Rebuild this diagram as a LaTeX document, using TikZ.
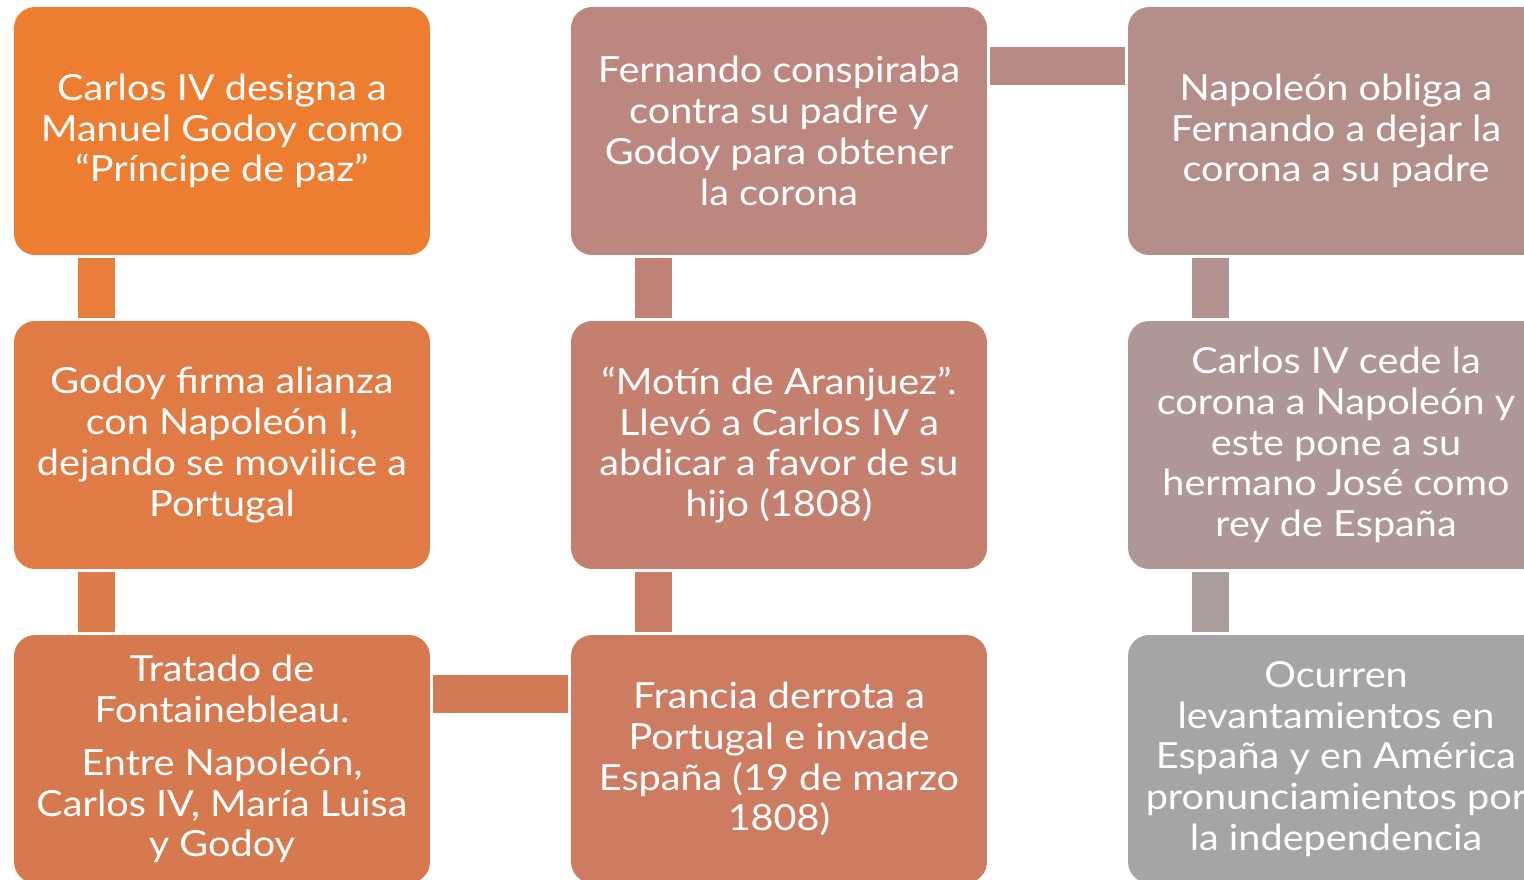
\documentclass[tikz,border=0pt]{standalone}
\usepackage{fontspec}
\setmainfont{Lato}[FakeStretch=1.1]
\usepackage{tikz}
\usetikzlibrary{positioning}
\tikzset{every node/.append style={align=center}}
\definecolor{paso1}{HTML}{ED7D31}
\definecolor{paso2}{HTML}{E07B45}
\definecolor{paso3}{HTML}{D6794F}
\definecolor{paso4}{HTML}{CD7B61}
\definecolor{paso5}{HTML}{C47F6E}
\definecolor{paso6}{HTML}{BB877F}
\definecolor{paso7}{HTML}{B48E89}
\definecolor{paso8}{HTML}{AE9795}
\definecolor{paso9}{HTML}{A5A5A5}

\begin{document}
\begin{tikzpicture}[
    x=0.02cm, y=-0.02cm,
    evento/.style={rounded corners=0.42cm, minimum width=8.32cm, minimum height=4.96cm, inner sep=0pt, text=white, font=\fontsize{20.5}{23.2}\selectfont},
    enlace/.style={line width=0.75cm}
]
    \useasboundingbox (0,0) rectangle (1524,879);
    \clip (0,0) rectangle (1524,879);

    % Events, column by column
    \node[evento, fill=paso1] (a1) at (222,131) {Carlos IV designa a\\Manuel Godoy como\\“Príncipe de paz”};
    \node[evento, fill=paso2] (a2) at (222,445) {Godoy firma alianza\\con Napoleón I,\\dejando se movilice a\\Portugal};
    \node[evento, fill=paso3] (a3) at (222,759) {Tratado de\\Fontainebleau.\\[7pt]Entre Napoleón,\\Carlos IV, María Luisa\\y Godoy};
    \node[evento, fill=paso4] (b3) at (779,759) {Francia derrota a\\Portugal e invade\\España (19 de marzo\\1808)};
    \node[evento, fill=paso5] (b2) at (779,445) {“Motín de Aranjuez”.\\Llevó a Carlos IV a\\abdicar a favor de su\\hijo (1808)};
    \node[evento, fill=paso6] (b1) at (779,131) {Fernando conspiraba\\contra su padre y\\Godoy para obtener\\la corona};
    \node[evento, fill=paso7] (c1) at (1336,131) {Napoleón obliga a\\Fernando a dejar la\\corona a su padre};
    \node[evento, fill=paso8] (c2) at (1336,445) {Carlos IV cede la\\corona a Napoleón y\\este pone a su\\hermano José como\\rey de España};
    \node[evento, fill=paso9] (c3) at (1336,759) {Ocurren\\levantamientos en\\España y en América\\pronunciamientos por\\la independencia};

    % Links
    \draw[enlace, draw=paso1!60!paso2] ([xshift=1.66cm, yshift=-0.06cm]a1.south west) -- ([xshift=1.66cm, yshift=0.06cm]a2.north west);
    \draw[enlace, draw=paso2!60!paso3] ([xshift=1.66cm, yshift=-0.06cm]a2.south west) -- ([xshift=1.66cm, yshift=0.06cm]a3.north west);
    \draw[enlace, draw=paso3!60!paso4] ([xshift=0.06cm, yshift=-1.19cm]a3.north east) -- ([xshift=-0.06cm, yshift=-1.19cm]b3.north west);
    \draw[enlace, draw=paso4!60!paso5] ([xshift=1.66cm, yshift=0.06cm]b3.north west) -- ([xshift=1.66cm, yshift=-0.06cm]b2.south west);
    \draw[enlace, draw=paso5!60!paso6] ([xshift=1.66cm, yshift=0.06cm]b2.north west) -- ([xshift=1.66cm, yshift=-0.06cm]b1.south west);
    \draw[enlace, draw=paso6!60!paso7] ([xshift=0.06cm, yshift=-1.19cm]b1.north east) -- ([xshift=-0.06cm, yshift=-1.19cm]c1.north west);
    \draw[enlace, draw=paso7!60!paso8] ([xshift=1.66cm, yshift=-0.06cm]c1.south west) -- ([xshift=1.66cm, yshift=0.06cm]c2.north west);
    \draw[enlace, draw=paso8!60!paso9] ([xshift=1.66cm, yshift=-0.06cm]c2.south west) -- ([xshift=1.66cm, yshift=0.06cm]c3.north west);

\end{tikzpicture}
\end{document}
